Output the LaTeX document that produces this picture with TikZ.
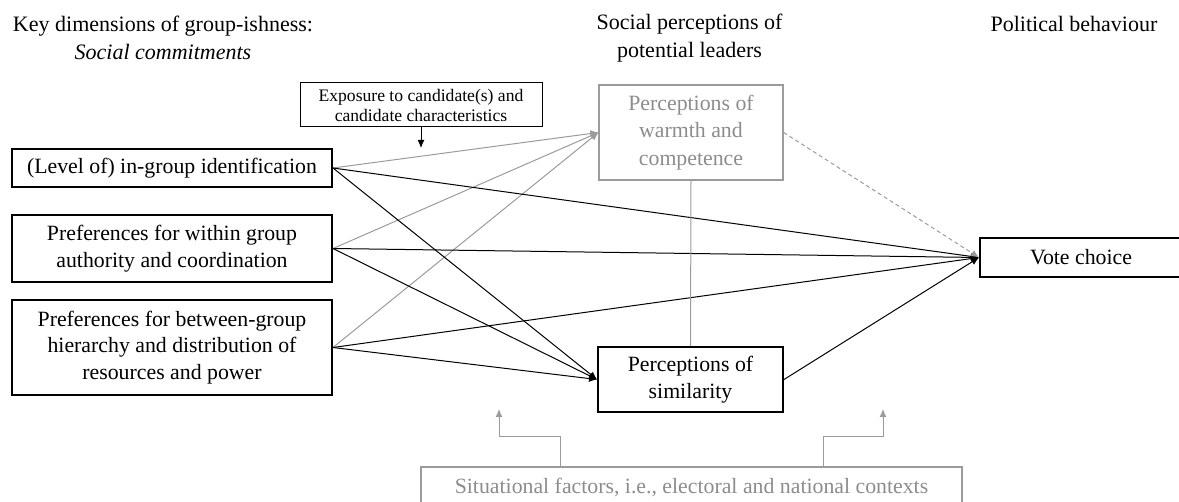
\documentclass[tikz,border=0pt]{standalone}
\usepackage{fontspec}
\setmainfont{Liberation Serif}
\usepackage{xcolor}
\usepackage{tikz}
\usetikzlibrary{positioning, arrows.meta, calc}
\definecolor{linegray}{HTML}{9B9B9B}
\definecolor{textgray}{HTML}{8C8C8C}

\tikzset{
  heading/.style={align=center, font=\fontsize{11}{14}\selectfont},
  factorbox/.style={draw, line width=1pt, align=center, inner sep=0pt,
    font=\fontsize{10.9}{13.4}\selectfont},
  greybox/.style={draw=linegray, line width=0.6pt, text=textgray, align=center,
    inner sep=0pt, font=\fontsize{10.9}{13.6}\selectfont},
  blackarrow/.style={-{Latex[length=4pt,width=3.5pt]}, line width=0.5pt},
  greyarrow/.style={-{Latex[length=4pt,width=3.5pt]}, draw=linegray, line width=0.5pt}
}

\begin{document}
\begin{tikzpicture}[x=0.5pt, y=-0.5pt]
  \useasboundingbox (0,0) rectangle (1179,502);

  % column headings
  \node[heading] (dims) at (163,38) {Key dimensions of group-ishness:\\\textit{Social commitments}};
  \node[heading] (percep) at (689.5,38) {Social perceptions of\\potential leaders};
  \node[heading] (behav) at (1074,24) {Political behaviour};

  % social commitments
  \node[factorbox, minimum width=160pt, minimum height=19pt] (ident) at (172,168)
    {(Level of) in-group identification};
  \node[factorbox, minimum width=160pt, minimum height=33.5pt] (within) at (172,248.5)
    {Preferences for within group\\authority and coordination};
  \node[factorbox, minimum width=160pt, minimum height=47.5pt] (between) at (172,347.5)
    {Preferences for between-group\\hierarchy and distribution of\\resources and power};

  % perceptions
  \node[greybox, minimum width=92pt, minimum height=47.5pt] (warm) at (691,132.5)
    {Perceptions of\\warmth and\\competence};
  \node[factorbox, minimum width=92.5pt, minimum height=32.5pt] (simil) at (690.5,379.5)
    {Perceptions of\\similarity};
  \node[factorbox, minimum width=101pt, minimum height=19.5pt] (vote) at (1081,257.5)
    {Vote choice};

  % moderators
  \node[draw, line width=0.5pt, align=center, inner sep=0pt, minimum width=121pt,
        minimum height=22pt, font=\fontsize{8.8}{10}\selectfont] (expo) at (421,105)
    {Exposure to candidate(s) and\\candidate characteristics};
  \node[greybox, minimum width=270.5pt, minimum height=21pt] (situ) at (691.5,488)
    {Situational factors, i.e., electoral and national contexts};

  \coordinate (expoTip) at (421,148);
  \coordinate (situL) at (560,0);
  \coordinate (situR) at (823,0);
  \coordinate (tipL) at (499,409);
  \coordinate (tipR) at (883,409);

  % paths
  \draw[greyarrow] (ident.east) -- (warm.west);
  \draw[greyarrow] (within.east) -- (warm.west);
  \draw[greyarrow] (between.east) -- (warm.west);
  \draw[blackarrow] (ident.east) -- (vote.west);
  \draw[blackarrow] (within.east) -- (vote.west);
  \draw[blackarrow] (between.east) -- (vote.west);
  \draw[blackarrow] (ident.east) -- (simil.west);
  \draw[blackarrow] (within.east) -- (simil.west);
  \draw[blackarrow] (between.east) -- (simil.west);
  \draw[blackarrow] (simil.east) -- (vote.west);
  \draw[greyarrow, dash pattern=on 2pt off 1.5pt] (warm.east) -- (vote.west);
  \draw[draw=linegray, line width=0.5pt] (warm.south) -- (simil.north);
  \draw[blackarrow] (expo.south) -- (expoTip);
  \draw[greyarrow] (situ.north -| situL) -- ++(0,-30) -| (tipL);
  \draw[greyarrow] (situ.north -| situR) -- ++(0,-30) -| (tipR);
\end{tikzpicture}
\end{document}
